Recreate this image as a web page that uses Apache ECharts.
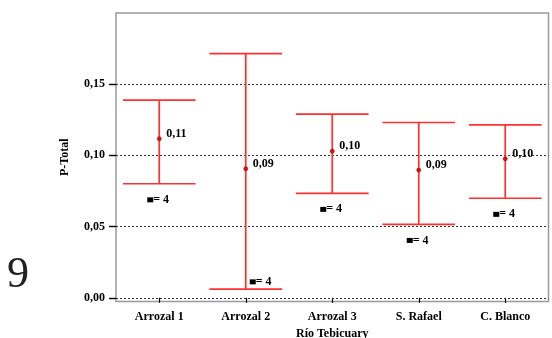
<!DOCTYPE html>
<html>
<head>
<meta charset="utf-8">
<script src="https://cdn.jsdelivr.net/npm/echarts@6/dist/echarts.min.js"></script>
<style>
  html, body { margin: 0; padding: 0; background: #fff; }
  #chart { width: 552px; height: 338px; }
</style>
</head>
<body>
<div id="chart"></div>
<script>
// P-Total by sampling site along the Río Tebicuary: mean and 95% CI
const categories = ['Arrozal 1', 'Arrozal 2', 'Arrozal 3', 'S. Rafael', 'C. Blanco'];
const means = [0.1117, 0.0906, 0.1030, 0.0897, 0.0976];
const lower = [0.0801, 0.0061, 0.0734, 0.0516, 0.0699];
const upper = [0.1388, 0.1715, 0.1290, 0.1231, 0.1215];
const counts = [4, 4, 4, 4, 4];
const yTicks = [0, 0.05, 0.10, 0.15];

const RED = '#ff3030';
const FONT = 'bold 12px "Liberation Serif", "DejaVu Serif", serif';
const fmt = v => v.toFixed(2).replace('.', ',');

const rows = categories.map((c, i) => [i, means[i], lower[i], upper[i], counts[i]]);

function renderItem(params, api) {
  const i = api.value(0);
  const mean = api.value(1), lo = api.value(2), hi = api.value(3), n = api.value(4);
  const top = api.coord([i, hi]);
  const bot = api.coord([i, lo]);
  const mid = api.coord([i, mean]);
  const half = api.size([1, 0])[0] * 0.42;
  const lineStyle = { stroke: RED, lineWidth: 1.7 };

  // count label sits under the lower cap unless that would run off the axis
  let nVal = lo - 0.0113, dx = -12;
  if (nVal < 0.003) { nVal = lo + 0.0051; dx = 4; }
  const nPt = api.coord([i, nVal]);

  return {
    type: 'group',
    children: [
      { type: 'line', shape: { x1: top[0], y1: top[1], x2: bot[0], y2: bot[1] }, style: lineStyle },
      { type: 'line', shape: { x1: top[0] - half, y1: top[1], x2: top[0] + half, y2: top[1] }, style: lineStyle },
      { type: 'line', shape: { x1: bot[0] - half, y1: bot[1], x2: bot[0] + half, y2: bot[1] }, style: lineStyle },
      { type: 'circle', shape: { cx: mid[0], cy: mid[1], r: 2 }, style: { fill: '#e01010', stroke: '#a00000', lineWidth: 0.6 } },
      { type: 'text', x: mid[0] + 7, y: mid[1] - 5,
        style: { text: fmt(mean), font: FONT, fill: '#000', align: 'left', verticalAlign: 'middle' } },
      { type: 'rect', shape: { x: nPt[0] + dx, y: nPt[1] - 2.5, width: 6, height: 5 }, style: { fill: '#000' } },
      { type: 'text', x: nPt[0] + dx + 6, y: nPt[1],
        style: { text: '= ' + n, font: FONT, fill: '#000', align: 'left', verticalAlign: 'middle' } }
    ]
  };
}

const chart = echarts.init(document.getElementById('chart'), null, { renderer: 'canvas' });
chart.setOption({
  animation: false,
  backgroundColor: '#fff',
  grid: {
    left: 116, right: 3.5, top: 13, bottom: 36.5,
    containLabel: false, outerBoundsMode: 'none',
    show: true, borderColor: '#9a9a9a', borderWidth: 1.5, backgroundColor: 'transparent'
  },
  graphic: [{
    type: 'text', x: 18, y: 275,
    style: { text: '9', font: '44px "Liberation Serif", serif', fill: '#222', align: 'center', verticalAlign: 'middle' }
  }],
  xAxis: {
    type: 'category',
    data: categories,
    boundaryGap: true,
    name: 'Río Tebicuary',
    nameLocation: 'middle',
    nameGap: 26,
    nameTextStyle: { fontFamily: 'Liberation Serif', fontWeight: 'bold', fontSize: 12, color: '#000' },
    axisLine: { show: false },
    axisTick: { show: true, alignWithLabel: true, length: 5, inside: false, lineStyle: { color: '#000', width: 1.2 } },
    axisLabel: { margin: 9, fontFamily: 'Liberation Serif', fontWeight: 'bold', fontSize: 12, color: '#000' },
    splitLine: { show: false }
  },
  yAxis: {
    type: 'value',
    min: -0.0026,
    max: 0.2,
    name: 'P-Total',
    nameLocation: 'middle',
    nameGap: 45,
    nameTextStyle: { fontFamily: 'Liberation Serif', fontWeight: 'bold', fontSize: 12, color: '#000' },
    axisLine: { show: false },
    axisTick: { show: true, customValues: yTicks, length: 7, lineStyle: { color: '#000', width: 1.4 } },
    axisLabel: { customValues: yTicks, margin: 11, formatter: fmt,
                 fontFamily: 'Liberation Serif', fontWeight: 'bold', fontSize: 12, color: '#000' },
    splitLine: { show: false }
  },
  series: [{
    type: 'custom',
    renderItem: renderItem,
    data: rows,
    silent: true,
    z: 5,
    markLine: {
      silent: true,
      symbol: ['none', 'none'],
      label: { show: false },
      lineStyle: { color: '#333', type: [2, 2], width: 1 },
      data: yTicks.map(v => ({ yAxis: v }))
    }
  }]
});
</script>
</body>
</html>
